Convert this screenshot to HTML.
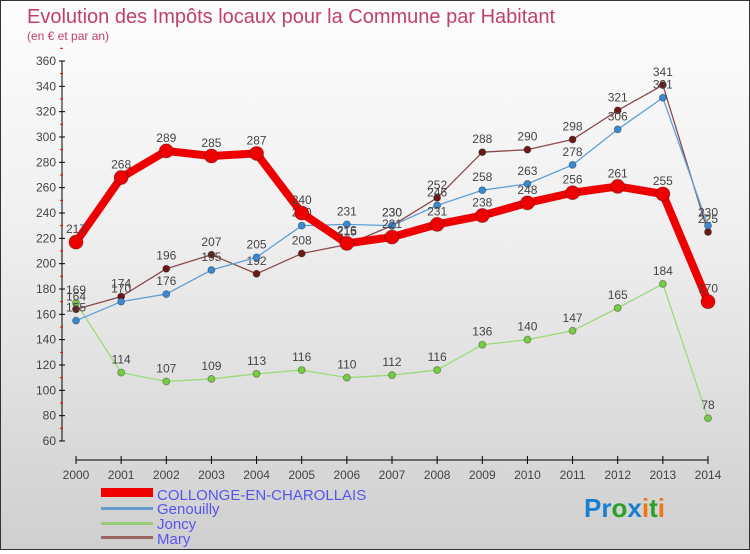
<!DOCTYPE html>
<html><head><meta charset="utf-8"><style>
body{margin:0;width:750px;height:550px;overflow:hidden;font-family:"Liberation Sans",sans-serif}
#wrap{position:relative;width:748px;height:548px;border:1px solid #333;background:linear-gradient(#fdfdfd,#f0f0f0 40%,#cfcfcf)}
</style></head><body>
<div id="wrap">
<svg id="svg" width="748" height="548" xmlns="http://www.w3.org/2000/svg">
<text x="26" y="22" font-size="20" fill="#c0406a">Evolution des Impôts locaux pour la Commune par Habitant</text>
<text x="26" y="39" font-size="12" fill="#c0406a">(en € et par an)</text>
<g id="axes"></g><g id="series"></g>
<g>
<rect x="100" y="487" width="52" height="9" fill="#e00"/>
<text x="156" y="499" font-size="15" fill="#5555ee">COLLONGE-EN-CHAROLLAIS</text>
<rect x="100" y="506" width="52" height="3" fill="#6699cc"/>
<text x="156" y="513" font-size="15" fill="#5555ee">Genouilly</text>
<rect x="100" y="521" width="52" height="3" fill="#99cc77"/>
<text x="156" y="528" font-size="15" fill="#5555ee">Joncy</text>
<rect x="100" y="535" width="52" height="3" fill="#996666"/>
<text x="156" y="543" font-size="15" fill="#5555ee">Mary</text>
</g>
<text x="583" y="516" font-size="26" font-weight="bold"><tspan fill="#1a7fd0">Pr</tspan><tspan fill="#2aa02a">o</tspan><tspan fill="#1a7fd0">x</tspan><tspan fill="#ee7711">i</tspan><tspan fill="#2aa02a">t</tspan><tspan fill="#ee7711">i</tspan></text>
</svg></div>
<script>
const years=[2000,2001,2002,2003,2004,2005,2006,2007,2008,2009,2010,2011,2012,2013,2014];
const yTicks=[60,80,100,120,140,160,180,200,220,240,260,280,300,320,340,360];
const collonge=[217,268,289,285,287,240,216,221,231,238,248,256,261,255,170];
const genouilly=[155,170,176,195,205,230,231,230,246,258,263,278,306,331,230];
const joncy=[169,114,107,109,113,116,110,112,116,136,140,147,165,184,78];
const mary=[164,174,196,207,192,208,215,230,252,288,290,298,321,341,225];
const NS="http://www.w3.org/2000/svg";
const xS=i=>75+i*(632/14);
const yS=v=>440-(v-60)*(380/300);
function mk(t,a,p){const e=document.createElementNS(NS,t);for(const k in a)e.setAttribute(k,a[k]);p.appendChild(e);return e;}
const ax=document.getElementById('axes');
const yl=mk('line',{x1:61,y1:60,x2:61,y2:440,stroke:'#000'},ax);


yTicks.forEach(v=>{
 mk('line',{x1:58,y1:yS(v),x2:64,y2:yS(v),stroke:'#000'},ax);
 mk('line',{x1:59,y1:yS(v+10),x2:62,y2:yS(v+10),stroke:'red'},ax);
 const t=mk('text',{x:55,y:yS(v)+4,'font-size':12,fill:'#444','text-anchor':'end'},ax);
 t.textContent=v;
 
 
});
const xl=mk('line',{x1:75,y1:459,x2:707,y2:459,stroke:'#000'},ax);


years.forEach((y,i)=>{
 mk('line',{x1:xS(i),y1:455,x2:xS(i),y2:463,stroke:'#000'},ax);
 const t=mk('text',{x:xS(i),y:478,'font-size':12,fill:'#444','text-anchor':'middle'},ax);
 t.textContent=y;
 
 
});
const sg=document.getElementById('series');
function draw(vals,name,col,w,r,dot){
 const g=mk('g',{},sg);
 
 
 mk('polyline',{points:vals.map((v,i)=>xS(i)+','+yS(v)).join(' '),fill:'none',stroke:col,'stroke-width':w,'stroke-linejoin':'round'},g);
 vals.forEach((v,i)=>{
  const c=mk('circle',{cx:xS(i),cy:yS(v),r:r,fill:dot,stroke:'rgba(0,0,0,0.3)','stroke-width':1},g);
  
  
  const t=mk('text',{x:xS(i),y:yS(v)-9,'font-size':12,fill:'#444','text-anchor':'middle'},g);
  t.textContent=v;
  
  
 });
}
draw(joncy,'joncy','#99dd77',1.3,3.5,'#77cc44');
draw(mary,'mary','#8b4a4a',1.3,3.5,'#6b1a1a');
draw(genouilly,'genouilly','#5fa0d8',1.3,3.5,'#3a8ad0');
draw(collonge,'collonge','#ee0000',8,7,'#ee0000');
</script>
</body></html>
